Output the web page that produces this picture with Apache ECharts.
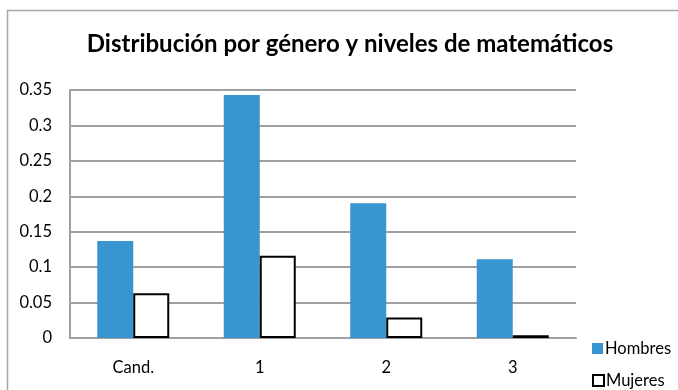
<!DOCTYPE html>
<html>
<head>
<meta charset="utf-8">
<script src="https://cdn.jsdelivr.net/npm/echarts@6/dist/echarts.min.js"></script>
<style>
html, body { margin: 0; padding: 0; background: #fff; }
#chart { width: 678px; height: 390px; }
</style>
</head>
<body>
<div id="chart"></div>
<script>
// Levels of mathematics and the share of each gender at each level
const categories = ['Cand.', '1', '2', '3'];
const hombres = [0.137, 0.343, 0.190, 0.111];
const mujeres = [0.063, 0.116, 0.029, 0.004];
const yTicks = [0, 0.05, 0.1, 0.15, 0.2, 0.25, 0.3, 0.35];

const FONT = 'Lato, "Open Sans", sans-serif';
const chart = echarts.init(document.getElementById('chart'));

// one legend block per series so each sits on its own line
function legendFor(name, top) {
  return {
    orient: 'vertical',
    left: 592,
    top: top,
    padding: 0,
    itemWidth: 11,
    itemHeight: 11,
    icon: 'rect',
    textStyle: { fontFamily: FONT, fontSize: 16.5, color: '#000', padding: [0, 0, 0, -3] },
    data: [name]
  };
}

chart.setOption({
  animation: false,
  backgroundColor: '#fff',
  title: {
    text: 'Distribución por género y niveles de matemáticos',
    left: 345,
    top: 27,
    textAlign: 'center',
    textStyle: { fontFamily: FONT, fontWeight: 'bold', fontSize: 24, color: '#000' }
  },
  graphic: [{
    type: 'rect',
    shape: { x: 7.5, y: 10.5, width: 720, height: 420 },
    style: { fill: 'none', stroke: '#a6a6a6', lineWidth: 1.5 },
    silent: true
  }],
  legend: [legendFor('Hombres', 340), legendFor('Mujeres', 372)],
  grid: { left: 70, right: 102, top: 90, bottom: 52 },
  xAxis: {
    type: 'category',
    data: categories,
    axisLine: { lineStyle: { color: '#a0a0a0', width: 2 } },
    axisTick: { show: false },
    axisLabel: { fontFamily: FONT, fontSize: 16.5, color: '#000', margin: 21 }
  },
  yAxis: {
    type: 'value',
    min: yTicks[0],
    max: yTicks[yTicks.length - 1],
    interval: 0.05,
    axisLine: { show: true, lineStyle: { color: '#a0a0a0', width: 2 } },
    axisTick: { show: false },
    splitLine: { lineStyle: { color: '#a0a0a0', width: 2 } },
    axisLabel: {
      fontFamily: FONT, fontSize: 16.5, color: '#000', margin: 18,
      formatter: v => String(+v.toFixed(2))
    }
  },
  series: [
    {
      name: 'Hombres',
      type: 'bar',
      data: hombres,
      barWidth: 36,
      barGap: '0%',
      itemStyle: { color: '#3895cf' }
    },
    {
      name: 'Mujeres',
      type: 'bar',
      data: mujeres,
      barWidth: 36,
      barGap: '0%',
      itemStyle: { color: '#ffffff', borderColor: '#000', borderWidth: 2 }
    }
  ]
});
</script>
</body>
</html>
